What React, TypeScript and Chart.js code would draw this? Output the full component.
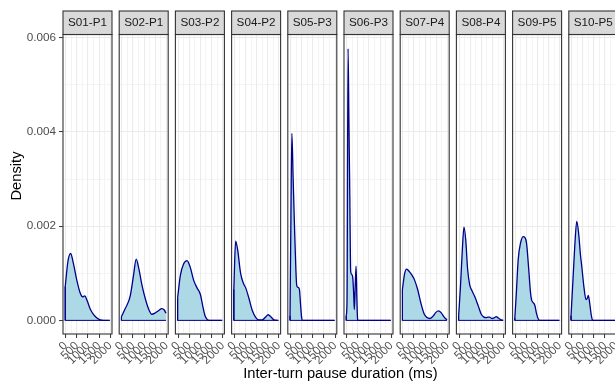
import React, { useEffect, useRef } from "react";
import { Chart, registerables } from "chart.js";

Chart.register(...registerables);

// ---------- data ----------
const panelLabels = ["S01-P1", "S02-P1", "S03-P2", "S04-P2", "S05-P3", "S06-P3", "S07-P4", "S08-P4", "S09-P5", "S10-P5"];

const s01Pause = [-20, 100, 220, 350, 500, 650, 760, 860, 960, 1100, 1250, 1400, 1550, 1700, 1975];
const s01Density = [0.00072, 0.00125, 0.00142, 0.0012, 0.00085, 0.00058, 0.0005, 0.00052, 0.00042, 0.00024, 0.00012, 0.00005, 0.00001, 0, 0];

const s02Pause = [-20, 150, 370, 520, 640, 760, 900, 1050, 1200, 1340, 1500, 1650, 1790, 1900, 1975];
const s02Density = [0.00008, 0.00025, 0.00051, 0.00095, 0.0013, 0.0011, 0.00075, 0.00046, 0.00024, 0.00013, 0.00016, 0.00021, 0.00025, 0.00022, 0.00015];

const s03Pause = [-20, 100, 250, 400, 550, 700, 850, 1000, 1100, 1200, 1300, 1400, 1975];
const s03Density = [0.00048, 0.00095, 0.0012, 0.00127, 0.00112, 0.00085, 0.00069, 0.00055, 0.00032, 0.00011, 0.00002, 0, 0];

const s04Pause = [-20, 60, 150, 280, 400, 520, 650, 800, 950, 1100, 1250, 1400, 1520, 1650, 1780, 1975];
const s04Density = [0.00066, 0.00168, 0.0015, 0.00101, 0.0008, 0.00068, 0.00048, 0.00022, 0.00007, 0.00001, 0.00001, 0.00007, 0.00012, 0.00007, 0.00001, 0];

const s05Pause = [-20, 20, 62, 120, 180, 240, 280, 340, 400, 450, 500, 540, 1975];
const s05Density = [0.0001, 0.0022, 0.00397, 0.003, 0.002, 0.0011, 0.00074, 0.0007, 0.00066, 0.00035, 0.00006, 0, 0];

const s06Pause = [-20, 15, 62, 100, 140, 180, 230, 270, 310, 343, 380, 420, 455, 490, 540, 1975];
const s06Density = [0.0001, 0.0004, 0.00577, 0.00425, 0.00264, 0.00104, 0.00097, 0.00092, 0.0006, 0.00023, 0.0007, 0.00115, 0.0005, 0.00002, 0, 0];

const s07Pause = [-20, 80, 170, 300, 420, 520, 660, 800, 960, 1080, 1200, 1350, 1480, 1600, 1720, 1850, 1975];
const s07Density = [0.00066, 0.001, 0.00109, 0.00103, 0.00095, 0.00086, 0.00066, 0.00038, 0.00013, 0.00006, 0.00004, 0.00009, 0.00017, 0.0002, 0.00016, 0.00007, 0.00001];

const s08Pause = [-20, 60, 140, 219, 300, 380, 473, 580, 696, 850, 995, 1110, 1219, 1300, 1370, 1430, 1491, 1580, 1665, 1760, 1888, 1975];
const s08Density = [0.0001, 0.0007, 0.00145, 0.00198, 0.0017, 0.0011, 0.00076, 0.00063, 0.00051, 0.00032, 0.00013, 0.00007, 0.00006, 0.00007, 0.00007, 0.00005, 0.00004, 0.00006, 0.00008, 0.00005, 0.00001, 0];

const s09Pause = [-20, 50, 130, 240, 353, 430, 504, 600, 680, 727, 800, 875, 950, 1030, 1100, 1975];
const s09Density = [0.00005, 0.0006, 0.00129, 0.00165, 0.00178, 0.00176, 0.00164, 0.0011, 0.0006, 0.00044, 0.00038, 0.00032, 0.00015, 0.00003, 0, 0];

const s10Pause = [-20, 60, 150, 237, 330, 400, 460, 560, 652, 710, 754, 820, 890, 951, 1975];
const s10Density = [0.0001, 0.0008, 0.0016, 0.0021, 0.0018, 0.0014, 0.00115, 0.0007, 0.00044, 0.00047, 0.00053, 0.00035, 0.0001, 0, 0];

const pauseSeries = [s01Pause, s02Pause, s03Pause, s04Pause, s05Pause, s06Pause, s07Pause, s08Pause, s09Pause, s10Pause];
const densitySeries = [s01Density, s02Density, s03Density, s04Density, s05Density, s06Density, s07Density, s08Density, s09Density, s10Density];

const xTickValues = [0, 250, 500, 750, 1000, 1250, 1500, 1750, 2000];
const xLabelValues = [0, 500, 1000, 1500, 2000];
const yTickValues = [0, 0.001, 0.002, 0.003, 0.004, 0.005, 0.006];
const yLabelValues = [0, 0.002, 0.004, 0.006];

const xTitle = "Inter-turn pause duration (ms)";
const yTitle = "Density";

// ---------- layout / style ----------
const W = 615;
const H = 387;
const PANEL_X0 = 63;
const PANEL_STEP = 56.2;
const PANEL_W = 49;
const STRIP_TOP = 11;
const PANEL_TOP = 34.5;
const PANEL_BOTTOM = 334;
const X_MIN = -120;
const X_MAX = 2075;
const Y_MIN = -0.000289;
const Y_MAX = 0.006069;
const FONT = '"Liberation Sans", Arial, Helvetica, sans-serif';
const LINE_COL = "#00008B";
const FILL_COL = "#ADD8E6";
const BORDER_COL = "#333333";
const GRID_COL = "#EBEBEB";
const STRIP_COL = "#D9D9D9";
const AXIS_TEXT = "#4D4D4D";

const isMajor = (v: number, majors: number[]) => majors.some((m) => Math.abs(m - v) < 1e-9);

function makeChart(canvas: HTMLCanvasElement, i: number, padLeft: number, padRight: number): Chart {
  const first = i === 0;
  const xs = pauseSeries[i];
  const ys = densitySeries[i];
  const curve = xs.map((x, k) => ({ x, y: ys[k] }));
  const base = [
    { x: xs[0], y: ys[0] },
    { x: xs[0], y: 0 },
    { x: xs[xs.length - 1], y: 0 },
  ];

  const decor = {
    id: "decor" + i,
    afterDraw(chart: any) {
      const ctx = chart.ctx as CanvasRenderingContext2D;
      const { left, right, top, bottom } = chart.chartArea;
      ctx.save();
      // panel border
      ctx.strokeStyle = BORDER_COL;
      ctx.lineWidth = 1.1;
      ctx.strokeRect(left, top, right - left, bottom - top);
      // strip
      ctx.fillStyle = STRIP_COL;
      ctx.fillRect(left, STRIP_TOP, right - left, top - STRIP_TOP);
      ctx.strokeRect(left, STRIP_TOP, right - left, top - STRIP_TOP);
      ctx.fillStyle = "#1A1A1A";
      ctx.font = `11.7px ${FONT}`;
      ctx.textAlign = "center";
      ctx.textBaseline = "middle";
      ctx.fillText(panelLabels[i], (left + right) / 2, (STRIP_TOP + top) / 2 + 0.5);
      if (first) {
        ctx.fillStyle = "#000000";
        ctx.font = `14.7px ${FONT}`;
        ctx.fillText(xTitle, PANEL_X0 + (PANEL_STEP * 9 + PANEL_W) / 2, 374);
        ctx.translate(17, 176);
        ctx.rotate(-Math.PI / 2);
        ctx.fillText(yTitle, 0, 0);
      }
      ctx.restore();
    },
  };

  return new Chart(canvas, {
    type: "line",
    data: {
      datasets: [
        {
          data: base,
          borderColor: LINE_COL,
          borderWidth: 1,
          fill: false,
          pointRadius: 0,
          tension: 0,
        },
        {
          data: curve,
          borderColor: LINE_COL,
          borderWidth: 1.3,
          backgroundColor: FILL_COL,
          fill: "origin",
          pointRadius: 0,
          cubicInterpolationMode: "monotone",
        },
      ],
    },
    options: {
      animation: false,
      responsive: false,
      devicePixelRatio: 1,
      events: [],
      layout: { padding: { left: padLeft, right: padRight, top: PANEL_TOP, bottom: 0 } },
      plugins: { legend: { display: false }, tooltip: { enabled: false } },
      scales: {
        x: {
          type: "linear",
          bounds: "data",
          min: X_MIN,
          max: X_MAX,
          afterBuildTicks: (scale: any) => {
            scale.ticks = xTickValues.map((v) => ({ value: v }));
          },
          afterFit: (scale: any) => {
            scale.height = H - PANEL_BOTTOM;
          },
          border: { display: false },
          grid: {
            color: GRID_COL,
            lineWidth: (c: any) => (isMajor(c.tick?.value, xLabelValues) ? 1.1 : 0.55),
            tickColor: (c: any) => (isMajor(c.tick?.value, xLabelValues) ? BORDER_COL : "rgba(0,0,0,0)"),
            tickWidth: 1,
            tickLength: 4,
            drawTicks: true,
          },
          ticks: {
            autoSkip: false,
            minRotation: 45,
            maxRotation: 45,
            padding: 1,
            color: AXIS_TEXT,
            font: { family: FONT, size: 11.7 },
            callback: (v: any) => (isMajor(Number(v), xLabelValues) ? String(v) : ""),
          },
        },
        y: {
          type: "linear",
          bounds: "data",
          min: Y_MIN,
          max: Y_MAX,
          afterBuildTicks: (scale: any) => {
            scale.ticks = yTickValues.map((v) => ({ value: v }));
          },
          afterFit: (scale: any) => {
            scale.width = first ? PANEL_X0 : 0;
          },
          border: { display: false },
          grid: {
            color: GRID_COL,
            lineWidth: (c: any) => (isMajor(c.tick?.value, yLabelValues) ? 1.1 : 0.55),
            tickColor: (c: any) => (isMajor(c.tick?.value, yLabelValues) ? BORDER_COL : "rgba(0,0,0,0)"),
            tickWidth: 1,
            tickLength: 4,
            drawTicks: first,
          },
          ticks: {
            display: first,
            autoSkip: false,
            padding: 3,
            color: AXIS_TEXT,
            font: { family: FONT, size: 11.7 },
            callback: (v: any) => (isMajor(Number(v), yLabelValues) ? Number(v).toFixed(3) : ""),
          },
        },
      },
    },
    plugins: [decor],
  } as any);
}

export default function App() {
  const refs = useRef<(HTMLCanvasElement | null)[]>([]);

  const specs = panelLabels.map((_, i) => {
    const panelLeft = PANEL_X0 + PANEL_STEP * i;
    if (i === 0) {
      return { left: 0, width: W, padLeft: 0, padRight: W - PANEL_X0 - PANEL_W };
    }
    const left = Math.round(panelLeft) - 25;
    const width = 86;
    const padLeft = panelLeft - left;
    const padRight = width - padLeft - PANEL_W;
    return { left, width, padLeft, padRight };
  });

  useEffect(() => {
    const charts = specs.map((s, i) => makeChart(refs.current[i] as HTMLCanvasElement, i, s.padLeft, s.padRight));
    return () => charts.forEach((c) => c.destroy());
  }, []);

  return (
    <div style={{ position: "absolute", left: 0, top: 0, width: W, height: H, overflow: "hidden", background: "#ffffff" }}>
      {specs.map((s, i) => (
        <canvas
          key={i}
          ref={(el) => {
            refs.current[i] = el;
          }}
          width={s.width}
          height={H}
          style={{ position: "absolute", left: s.left, top: 0, width: s.width, height: H }}
        />
      ))}
    </div>
  );
}
